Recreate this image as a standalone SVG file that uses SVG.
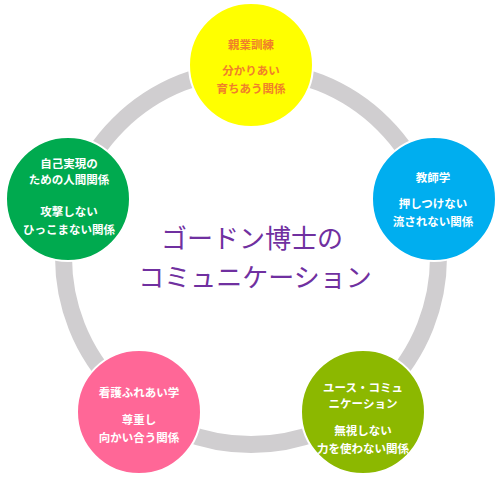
<svg xmlns="http://www.w3.org/2000/svg" width="500" height="500" viewBox="0 0 500 500">
<style>
  .ring { fill: none; stroke: #d0ced0; stroke-width: 17; }
  .node { stroke: #ffffff; stroke-width: 2; }
  .t { font-family: "Noto Sans CJK JP", "Noto Sans", sans-serif; font-size: 11.5px; font-weight: bold; text-anchor: middle; dominant-baseline: central; fill: #ffffff; }
  .ty { fill: #f0802a; }
  .title { font-family: "Noto Sans CJK JP", "Noto Sans", sans-serif; font-size: 26px; fill: #7030a0; text-anchor: middle; }
</style>
<rect width="500" height="500" fill="#ffffff"/>
<g id="connectors">
  <circle class="ring" cx="251" cy="257" r="187.5"/>
</g>
<g id="title">
  <text class="title" x="252" y="248">ゴードン博士の</text>
  <text class="title" x="255" y="287">コミュニケーション</text>
</g>
<g id="node-oyagyo">
  <circle class="node" cx="251" cy="65" r="62" fill="#ffff00"/>
  <text class="t ty" x="251" y="44">親業訓練</text>
  <text class="t ty" x="251" y="70">分かりあい</text>
  <text class="t ty" x="251" y="88">育ちあう関係</text>
</g>
<g id="node-kyoshi">
  <circle class="node" cx="434" cy="199" r="62" fill="#00aeef"/>
  <text class="t" x="433" y="177">教師学</text>
  <text class="t" x="433" y="203">押しつけない</text>
  <text class="t" x="433" y="221">流されない関係</text>
</g>
<g id="node-jiko">
  <circle class="node" cx="68" cy="199" r="62" fill="#00aa4f"/>
  <text class="t" x="69" y="163">自己実現の</text>
  <text class="t" x="69" y="179">ための人間関係</text>
  <text class="t" x="69" y="211">攻撃しない</text>
  <text class="t" x="69" y="229">ひっこまない関係</text>
</g>
<g id="node-kango">
  <circle class="node" cx="139" cy="412" r="62" fill="#ff6797"/>
  <text class="t" x="139" y="392">看護ふれあい学</text>
  <text class="t" x="139" y="419">尊重し</text>
  <text class="t" x="139" y="437">向かい合う関係</text>
</g>
<g id="node-youth">
  <circle class="node" cx="363" cy="412" r="62" fill="#8cb800"/>
  <text class="t" x="363" y="387">ユース・コミュ</text>
  <text class="t" x="363" y="403">ニケーション</text>
  <text class="t" x="363" y="430">無視しない</text>
  <text class="t" x="363" y="448">力を使わない関係</text>
</g>
</svg>
